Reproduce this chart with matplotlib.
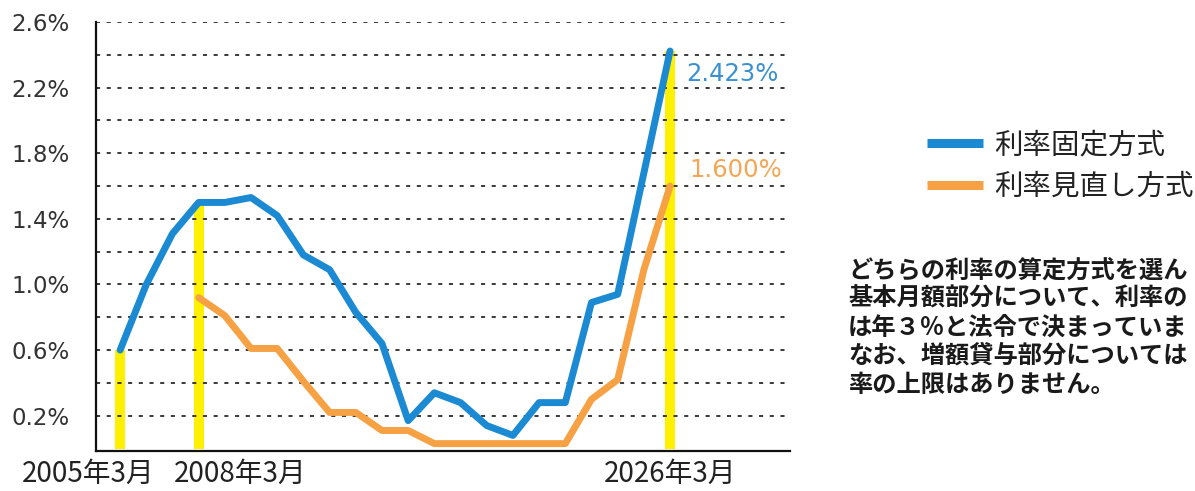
import numpy as np
import matplotlib.pyplot as plt

# data (yearly, March)
years_fixed = [2005, 2006, 2007, 2008, 2009, 2010, 2011, 2012, 2013, 2014, 2015,
               2016, 2017, 2018, 2019, 2020, 2021, 2022, 2023, 2024, 2025, 2026]
rate_fixed = [0.60, 1.00, 1.31, 1.50, 1.50, 1.53, 1.42, 1.18, 1.09, 0.83, 0.64,
              0.17, 0.34, 0.28, 0.14, 0.08, 0.28, 0.28, 0.89, 0.94, 1.68, 2.423]

years_review = [2008, 2009, 2010, 2011, 2012, 2013, 2014, 2015, 2016, 2017,
                2018, 2019, 2020, 2021, 2022, 2023, 2024, 2025, 2026]
rate_review = [0.92, 0.81, 0.61, 0.61, 0.41, 0.22, 0.22, 0.11, 0.11, 0.03,
               0.03, 0.03, 0.03, 0.03, 0.03, 0.30, 0.42, 1.09, 1.60]

marker_years = [2005, 2008, 2026]
marker_labels = ['2005年3月', '2008年3月', '2026年3月']
label_shift = [-23, 30, 0]   # points, to keep the labels apart

series_names = ['利率固定方式', '利率見直し方式']
# the note is cropped at the right edge in the original
note_lines = ['どちらの利率の算定方式を選ん',
              '基本月額部分について、利率の',
              'は年３％と法令で決まっていま',
              'なお、増額貸与部分については',
              '率の上限はありません。']

BLUE = '#1c8ad2'
ORANGE = '#f7a145'
YELLOW = '#fff000'
JP = ['Noto Sans CJK JP', 'DejaVu Sans']

plt.rcParams['font.family'] = ['DejaVu Sans', 'Noto Sans CJK JP']

fig = plt.figure(figsize=(11.95, 4.91), dpi=100)
ax = fig.add_axes([96 / 1195, 1 - 451 / 491, (790 - 96) / 1195, (451 - 22) / 491])

# yellow markers under the lines
bar_h = [rate_fixed[years_fixed.index(y)] for y in marker_years]
ax.bar(marker_years, bar_h, width=0.37, color=YELLOW, zorder=1)

l1, = ax.plot(years_fixed, rate_fixed, color=BLUE, lw=5,
              solid_joinstyle='round', solid_capstyle='round', zorder=3)
l2, = ax.plot(years_review, rate_review, color=ORANGE, lw=5,
              solid_joinstyle='round', solid_capstyle='round', zorder=2)

ax.set_xlim(2004.08, 2030.58)
ax.set_ylim(-0.015, 2.6)

major = np.arange(0.2, 2.61, 0.4)
minor = np.arange(0.4, 2.5, 0.4)
ax.set_yticks(major)
ax.set_yticks(minor, minor=True)
ax.set_yticklabels([f'{v:.1f}%' for v in major])
ax.tick_params(axis='y', which='both', length=0, pad=19, labelsize=16.5,
               labelcolor='#333333')
ax.set_xticks([])
ax.grid(axis='y', which='both', color='#3a3a3a', lw=1.4,
        linestyle=(0, (2.1, 3.4)), zorder=0)

for s in ['top', 'right']:
    ax.spines[s].set_visible(False)
for s in ['left', 'bottom']:
    ax.spines[s].set_linewidth(1.6)
    ax.spines[s].set_color('#111111')

# year labels under the axis
for yr, lab, dx in zip(marker_years, marker_labels, label_shift):
    ax.annotate(lab, xy=(yr, 0), xycoords=('data', 'axes fraction'),
                xytext=(dx, -16.5), textcoords='offset points',
                ha='center', va='center', fontsize=20, family=JP,
                color='#222222')

# end values
ax.annotate(f'{rate_fixed[-1]:.3f}%', xy=(years_fixed[-1], rate_fixed[-1]),
            xytext=(11.5, -16.5), textcoords='offset points',
            ha='left', va='center', fontsize=17.5, color='#3a90d0')
ax.annotate(f'{rate_review[-1]:.3f}%', xy=(years_review[-1], rate_review[-1]),
            xytext=(14, 11.3), textcoords='offset points',
            ha='left', va='center', fontsize=17.5, color='#f4a655')

leg = fig.legend([l1, l2], series_names, loc='center left',
                 bbox_to_anchor=(927 / 1195, 1 - 166 / 491), frameon=False,
                 prop={'family': JP, 'size': 20.5}, handlelength=1.95,
                 handletextpad=0.42, labelspacing=0.4, borderpad=0,
                 borderaxespad=0)
for h in leg.get_lines():
    h.set_linewidth(6.5)
    h.set_solid_capstyle('butt')
for t in leg.get_texts():
    t.set_color('#222222')

for i, line in enumerate(note_lines):
    fig.text(848 / 1195, 1 - (270 + i * 28.7) / 491, line, ha='left',
             va='center', fontsize=17.5, fontweight='bold', family=JP,
             color='#1a1a1a')

fig.savefig('out.png', dpi=100)
